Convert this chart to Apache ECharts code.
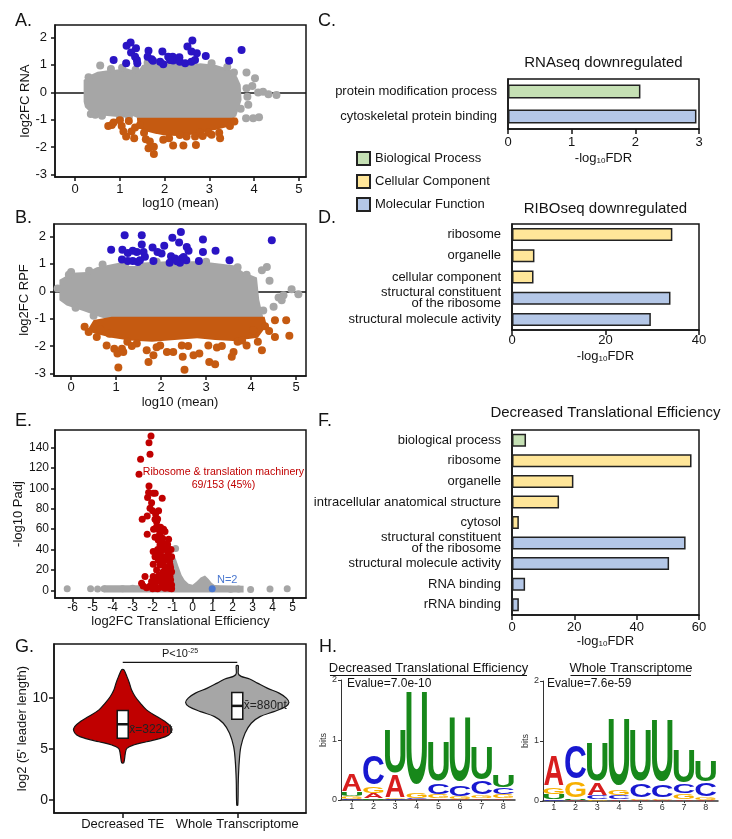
<!DOCTYPE html>
<html><head><meta charset="utf-8">
<script src="https://cdn.jsdelivr.net/npm/echarts@6/dist/echarts.min.js"></script>
<style>html,body{margin:0;padding:0;background:#fff}#c{width:732px;height:839px}</style>
</head><body><div id="c"></div>
<script>
const FONT = 'Liberation Sans, Arial, sans-serif';
const INK = '#141414';
const GRAY = '#a6a6a6', BLUE_PT = '#2a14c4', ORANGE = '#c55a11', RED = '#c00000', BLUE_E = '#4a78d0';

// ---------- Panel A (RNA MA plot)
const aGrayHull = [[0.19,-0.35],[0.19,0.45],[0.33,0.62],[0.5,0.75],[0.7,0.8],[0.9,0.82],[1.15,0.88],[1.3,0.8],[1.4,0.75],[1.5,1.0],[1.7,1.08],[2.0,1.12],[2.3,1.08],[2.5,1.0],[2.8,1.06],[3.15,1.0],[3.35,0.9],[3.5,0.8],[3.62,0.57],[3.7,0.27],[3.72,-0.28],[3.6,-0.88],[3.5,-0.98],[1.45,-0.98],[1.3,-0.88],[1.1,-0.92],[0.9,-0.9],[0.6,-0.85],[0.35,-0.75],[0.22,-0.55]];
const aGrayPts = [[0.56,0.98],[0.3,0.55],[1.05,0.9],[1.62,1.08],[2.6,1.03],[3.05,1.06],[3.55,0.72],[3.83,0.72],[4.02,0.51],[3.96,0.23],[3.83,0.15],[4.09,-0.01],[4.2,0.02],[4.32,-0.07],[4.5,-0.1],[3.85,-0.16],[3.87,-0.46],[3.82,-0.95],[3.98,-0.95],[4.11,-0.91],[0.35,-0.8],[0.6,-0.86],[1.2,-0.9],[3.7,-0.6],[0.8,0.85],[1.35,0.82],[2.2,1.1],[3.4,0.92],[0.45,-0.82],[1.0,-0.95]];
const aUp = [[0.86,1.18],[1.15,1.70],[1.24,1.82],[1.36,1.61],[1.25,1.45],[1.34,1.30],[1.38,1.18],[1.39,1.06],[1.14,1.06],[1.64,1.52],[1.62,1.30],[1.71,1.21],[1.74,1.15],[1.90,1.12],[1.95,1.49],[1.97,1.02],[2.08,1.30],[2.18,1.30],[2.19,1.16],[2.33,1.28],[2.34,1.12],[2.46,1.06],[2.51,1.67],[2.62,1.89],[2.60,1.49],[2.72,1.43],[2.60,1.12],[2.68,1.18],[2.92,1.33],[3.44,1.15],[3.72,1.55],[2.12,1.18]];
const aDownHull = [[1.38,-0.93],[3.62,-0.93],[3.62,-1.1],[3.45,-1.25],[3.2,-1.35],[2.9,-1.45],[2.6,-1.55],[2.3,-1.6],[2.0,-1.58],[1.75,-1.5],[1.55,-1.42],[1.4,-1.3]];
const aDown = [[0.74,-1.23],[0.82,-1.2],[0.86,-1.11],[1.04,-1.23],[1.08,-1.44],[1.14,-1.62],[1.26,-1.44],[1.32,-1.68],[1.34,-1.29],[1.45,-1.2],[1.54,-1.48],[1.58,-1.72],[1.67,-1.8],[1.64,-2.05],[1.76,-2.26],[1.76,-1.99],[1.97,-1.74],[2.19,-1.95],[2.42,-1.95],[2.7,-1.93],[2.68,-1.62],[2.79,-1.48],[2.98,-1.48],[3.24,-1.68],[3.22,-1.48],[3.46,-1.23],[3.56,-1.07],[2.49,-1.62],[2.34,-1.56],[1.2,-1.05],[1.0,-1.02],[2.1,-1.68],[2.85,-1.6],[3.05,-1.55]];

// ---------- Panel B (RPF MA plot)
const bGrayHull = [[-0.26,-0.33],[-0.26,0.42],[-0.17,0.5],[0.01,0.68],[0.35,0.7],[0.57,0.88],[0.79,0.95],[1.09,1.05],[1.3,0.92],[1.45,0.92],[1.61,1.05],[2.13,1.1],[2.57,1.1],[2.87,1.1],[3.24,1.02],[3.61,0.95],[3.83,0.7],[4.13,0.5],[4.18,-0.3],[4.27,-0.95],[3.5,-0.96],[2.2,-0.96],[1.2,-1.0],[0.87,-1.06],[0.64,-0.94],[0.27,-0.72],[-0.1,-0.52]];
const bGrayPts = [[4.35,0.89],[4.24,0.77],[4.41,0.38],[4.61,-0.23],[4.72,-0.15],[4.9,0.07],[5.05,-0.11],[4.5,-0.57],[4.27,-0.7],[4.68,-0.33],[0.0,0.7],[-0.05,0.6],[0.4,0.75],[3.9,0.6],[0.5,-0.9],[0.1,-0.6],[0.7,0.98],[1.2,1.0],[1.9,1.08],[3.0,1.08],[3.7,0.88],[-0.3,0.1]];
const bUp = [[0.89,1.52],[1.14,1.52],[1.19,2.05],[1.26,1.40],[1.37,1.48],[1.46,1.44],[1.57,2.05],[1.57,1.71],[1.61,1.44],[1.64,1.26],[1.81,1.60],[1.92,1.44],[2.01,1.38],[2.07,1.66],[2.25,1.96],[2.40,1.78],[2.44,2.17],[2.57,1.62],[2.61,1.48],[2.22,1.28],[2.31,1.20],[2.46,1.20],[2.56,1.13],[2.42,1.04],[2.19,1.04],[1.13,1.16],[1.26,1.11],[1.37,1.11],[1.48,1.07],[1.53,1.13],[1.83,1.11],[2.84,1.11],[2.93,1.44],[2.93,1.89],[3.21,1.48],[3.52,1.13],[4.46,1.87],[2.35,1.1],[2.5,1.25]];
const bDownHull = [[0.5,-1.05],[0.9,-0.93],[4.3,-0.93],[4.35,-1.25],[4.15,-1.7],[3.6,-1.82],[3.2,-1.78],[2.8,-1.72],[2.3,-1.78],[1.8,-1.85],[1.3,-1.8],[0.9,-1.7],[0.55,-1.55],[0.35,-1.45]];
const bDown = [[0.39,-1.49],[0.57,-1.67],[0.79,-1.98],[0.96,-2.10],[1.03,-2.28],[1.05,-2.79],[1.13,-2.10],[1.16,-2.22],[1.25,-1.85],[1.46,-1.91],[1.68,-2.16],[1.72,-2.59],[1.83,-2.34],[1.98,-1.98],[2.13,-2.22],[2.27,-2.22],[2.46,-1.98],[2.48,-2.40],[2.52,-2.87],[2.72,-2.34],[2.85,-2.28],[3.05,-1.98],[3.07,-2.59],[3.20,-2.67],[3.24,-2.06],[3.57,-2.40],[3.61,-2.22],[3.90,-1.98],[4.24,-2.16],[4.31,-1.28],[4.53,-1.06],[4.78,-1.06],[4.53,-1.67],[4.85,-1.63],[4.05,-1.43],[3.70,-1.85],[0.3,-1.3],[0.65,-1.4],[0.85,-1.55],[1.35,-2.0],[1.9,-2.05],[2.6,-2.0],[3.35,-2.0],[3.8,-1.8],[4.15,-1.85],[4.4,-1.45]];

// ---------- GO bar charts (C, D, F)
const goTypes = ['Biological Process','Cellular Component','Molecular Function'];
const goColors = ['#c5e0b4','#ffe699','#b4c7e7'];
const cCats = ['protein modification process','cytoskeletal protein binding'];
const cVals = [2.08, 2.96];
const cType = [0, 2];
const dCats = ['ribosome','organelle','cellular component','structural constituent\nof the ribosome','structural molecule activity'];
const dVals = [34.3, 4.8, 4.6, 33.9, 29.7];
const dType = [1, 1, 1, 2, 2];
const fCats = ['biological process','ribosome','organelle','intracellular anatomical structure','cytosol','structural constituent\nof the ribosome','structural molecule activity','RNA binding','rRNA binding'];
const fVals = [4.5, 57.6, 19.7, 15.1, 2.2, 55.7, 50.4, 4.2, 2.2];
const fType = [0, 1, 1, 1, 1, 2, 2, 2, 2];

// ---------- Panel E (volcano)
const eGrayHull = [[-4.45,-2.3],[2.55,-2.3],[2.55,4.5],[1.4,4.8],[1.1,5.2],[0.95,7.5],[0.8,11],[0.62,14.5],[0.4,12.5],[0.2,8.5],[0.0,5.5],[-0.2,6.5],[-0.4,10],[-0.55,15],[-0.7,23],[-0.82,30],[-0.95,36],[-1.1,30],[-1.2,8],[-1.5,5],[-2.5,4.8],[-4.45,4.8]];
const eGrayPts = [[-6.27,1.5],[-5.1,1.5],[-4.75,1.2],[-4.43,1.5],[2.9,0.8],[3.87,1.2],[4.73,1.6],[-0.85,41],[-3.5,1.5],[-3.0,2],[1.9,1],[2.3,1.2]];
const eRed = [[-2.08,151.5],[-2.18,145],[-2.13,133.5],[-2.6,128.6],[-2.68,113.9],[-2.18,102.4],[-2.2,95.9],[-1.97,95.2],[-1.87,95.2],[-1.52,90.3],[-2.25,91],[-2.05,86],[-2.13,80.5],[-2.52,69.7],[-2.27,73],[-1.88,69.7],[-1.8,67.4],[-1.8,62.5],[-1.72,59.9],[-1.63,56],[-2.27,55],[-1.38,57.6],[-1.88,52],[-1.72,49.4],[-1.5,51],[-1.43,46],[-1.63,44.5],[-1.97,38],[-1.8,36.3],[-1.55,39.6],[-1.3,39.6],[-1.22,36.3],[-1.38,33],[-1.88,33],[-1.72,29.8],[-1.47,28.1],[-1.22,29.8],[-1.97,25.5],[-1.63,24.9],[-1.38,23.2],[-1.13,24.9],[-1.8,20],[-1.47,18.3],[-1.22,20],[-1.05,18.3],[-2.38,13.4],[-1.97,13.4],[-1.67,15],[-1.38,13.4],[-1.13,13.4],[-2.55,6.9],[-2.47,4.3],[-2.13,4.3],[-2.05,8.5],[-1.88,6.9],[-1.63,8.5],[-1.47,5.2],[-1.22,7.5],[-1.05,5.2],[-1.8,2],[-1.38,2],[-1.17,2],[-2.0,78],[-1.85,75],[-1.75,70],[-1.95,60],[-1.6,62],[-1.7,53],[-1.55,47],[-1.45,42],[-1.75,40],[-1.6,35],[-1.3,32],[-1.15,28],[-1.55,30],[-1.25,15],[-1.1,10],[-1.9,10],[-1.75,12],[-1.5,10],[-1.3,8],[-1.6,3],[-1.05,1.5],[-1.1,22],[-1.25,45],[-1.45,60],[-1.7,78],[-2.3,2.5],[-2.0,1.5],[-1.75,1.5],[-1.05,33],[-1.08,40],[-1.2,50]];
const eBlue = [[0.98,1.5]];

// ---------- Panel G (violins of 5' leader length)
const gCats = ['Decreased TE','Whole Transcriptome'];
const redViolinY = [12.78,12.13,11.47,10.82,10.16,9.51,8.85,8.19,7.70,7.21,6.81,6.39,6.06,5.73,5.41,5.08,4.59,3.67];
const redViolinW = [0.02,0.08,0.13,0.17,0.24,0.34,0.46,0.66,0.82,0.93,0.95,0.89,0.73,0.46,0.21,0.08,0.05,0.02];
const grayViolinY = [13.17,12.29,11.87,11.47,10.98,10.49,10.0,9.57,9.18,8.68,8.19,7.54,6.56,5.24,3.93,1.97,-0.49];
const grayViolinW = [0.02,0.03,0.24,0.39,0.58,0.81,0.95,1.0,0.94,0.71,0.44,0.27,0.15,0.07,0.04,0.02,0.01];
const boxQ1 = [6.06, 7.93], boxMed = [7.44, 9.24], boxQ3 = [8.78, 10.55];
const meanLabels = ['x\u0304=322nt','x\u0304=880nt'];
const sigBracket = [0, 1, 13.5];

// ---------- Panel H (sequence logos, bits)
const logoPos = [1,2,3,4,5,6,7,8];
const decA = [0.28,0.08,0.38,0.015,0.02,0.01,0.02,0.02];
const decC = [0.02,0.50,0.01,0.015,0.18,0.18,0.22,0.11];
const decG = [0.04,0.12,0.01,0.09,0.06,0.04,0.05,0.07];
const decU = [0.06,0.02,0.75,1.60,0.68,1.10,0.57,0.20];
const wtA = [0.50,0.02,0.20,0.02,0.01,0.01,0.02,0.01];
const wtC = [0.02,0.58,0.06,0.07,0.22,0.20,0.15,0.23];
const wtG = [0.12,0.28,0.02,0.08,0.03,0.03,0.09,0.05];
const wtU = [0.09,0.02,0.65,1.16,0.87,1.05,0.57,0.36];

// ================= helpers
function merge(a, b) {
  const out = Array.isArray(a) ? a.slice() : Object.assign({}, a);
  for (const k in b) {
    if (b[k] && typeof b[k] === 'object' && !Array.isArray(b[k]) && a[k] && typeof a[k] === 'object') out[k] = merge(a[k], b[k]);
    else out[k] = b[k];
  }
  return out;
}
const axBase = (g) => ({
  gridIndex: g, type: 'value',
  axisLine: {show: true, onZero: false, lineStyle: {color: INK, width: 1.5}},
  axisTick: {show: true, length: 4, lineStyle: {color: INK, width: 1.5}},
  splitLine: {show: false},
  axisLabel: {color: INK, fontSize: 13, fontFamily: FONT},
  nameLocation: 'middle',
  nameTextStyle: {color: INK, fontSize: 13, fontFamily: FONT}
});
const ax = (g, o) => merge(axBase(g), o);
const range = (a, b, s) => { const r = []; for (let v = a; v <= b + 1e-9; v += s) r.push(Math.round(v * 100) / 100); return r; };
const fdrName = {name: '-log{s|10}FDR', nameTextStyle: {rich: {s: {fontSize: 8, fontFamily: FONT, color: INK, padding: [5, 0, 0, 0]}}}};

function hull(g, pts, color, z) {
  return {type: 'custom', xAxisIndex: g, yAxisIndex: g, z, silent: true, data: [[pts[0][0], pts[0][1]]],
    renderItem: (p, api) => ({type: 'polygon', shape: {points: pts.map(q => api.coord(q))}, style: {fill: color}})};
}
function scat(g, pts, color, size, z) {
  return {type: 'scatter', xAxisIndex: g, yAxisIndex: g, z, data: pts, symbolSize: size, itemStyle: {color, opacity: 1}, silent: true};
}
function zeroLine(g) {
  return {type: 'line', xAxisIndex: g, yAxisIndex: g, z: 1, data: [], markLine: {silent: true, symbol: 'none', z: 1, label: {show: false}, lineStyle: {color: INK, width: 1.5, type: 'solid'}, data: [{yAxis: 0}]}};
}
function goSeries(g, vals, types, bw) {
  return goTypes.map((nm, t) => ({type: 'bar', name: nm, stack: 'go' + g, xAxisIndex: g, yAxisIndex: g, barWidth: bw,
    data: vals.map((v, i) => types[i] === t ? v : '-'),
    itemStyle: {color: goColors[t], borderColor: '#222', borderWidth: 1.5}}));
}
const catAxis = (g, cats) => ({gridIndex: g, type: 'category', inverse: true, data: cats,
  axisLine: {show: true, lineStyle: {color: INK, width: 1.5}}, axisTick: {show: false},
  axisLabel: {color: INK, fontSize: 13, fontFamily: FONT, margin: 11, lineHeight: 11}});

// logo rendering
const LCOL = {A: '#d81e1e', C: '#1818d0', G: '#f7b000', U: '#17881a'};
const INKW = {A: 0.70, C: 0.63, G: 0.67, U: 0.59};
const CAPH = {A: 0.716, C: 0.745, G: 0.745, U: 0.73};
function logoSeries(g, A, C, G, U) {
  return {type: 'custom', xAxisIndex: g, yAxisIndex: g, z: 5, silent: true,
    data: logoPos.map((p, i) => [p, A[i] + C[i] + G[i] + U[i]]),
    renderItem: (params, api) => {
      const k = params.dataIndex, pos = logoPos[k];
      const letters = [['A', A[k]], ['C', C[k]], ['G', G[k]], ['U', U[k]]].sort((a, b) => a[1] - b[1]);
      let base = 0; const children = [];
      for (const [L, h] of letters) {
        if (h <= 0) continue;
        const bl = api.coord([pos - 0.46, base]), tr = api.coord([pos + 0.46, base + h]);
        const w = tr[0] - bl[0], hp = bl[1] - tr[1];
        const F = 100, sx = w / (INKW[L] * F), sy = hp / (CAPH[L] * F);
        children.push({type: 'text', x: (bl[0] + tr[0]) / 2, y: (bl[1] + tr[1]) / 2 + 0.018 * F * sy, scaleX: sx, scaleY: sy,
          style: {text: L, fontSize: F, fontFamily: 'Liberation Sans', fontWeight: 'bold', fill: LCOL[L],
            align: 'center', verticalAlign: 'middle', textAlign: 'center', textVerticalAlign: 'middle'}});
        base += h;
      }
      return {type: 'group', children};
    }};
}

// violins
const violins = [
  {y: redViolinY, w: redViolinW, color: RED},
  {y: grayViolinY, w: grayViolinW, color: GRAY}
];
const VSCALE = 0.451, BOXHALF = 0.048;

const T = (x, y, text, size, extra) => ({type: 'text', x, y, silent: true,
  style: Object.assign({text, fontSize: size, fontFamily: FONT, fill: INK, align: 'left', verticalAlign: 'middle', textAlign: 'left', textVerticalAlign: 'middle'}, extra || {})});

const option = {
  animation: false,
  backgroundColor: '#fff',
  grid: [
    {left: 55, top: 25, width: 251, height: 152},
    {left: 54, top: 224, width: 252, height: 152},
    {left: 508, top: 79, width: 191, height: 50},
    {left: 512, top: 224, width: 187, height: 106},
    {left: 55, top: 430, width: 251, height: 168},
    {left: 512, top: 430, width: 187, height: 185},
    {left: 54, top: 644, width: 252, height: 169},
    {left: 341, top: 680, width: 174, height: 120, show: false},
    {left: 543, top: 681, width: 175, height: 120, show: false}
  ].map(g => Object.assign({show: true, borderColor: INK, borderWidth: 1.5}, g)),
  xAxis: [
    ax(0, {min: -0.45, max: 5.16, axisLabel: {customValues: range(0, 5, 1), margin: 6}, axisTick: {customValues: range(0, 5, 1)}, name: 'log10 (mean)', nameGap: 19}),
    ax(1, {min: -0.38, max: 5.22, axisLabel: {customValues: range(0, 5, 1), margin: 5}, axisTick: {customValues: range(0, 5, 1)}, name: 'log10 (mean)', nameGap: 20}),
    ax(2, merge({min: 0, max: 3, interval: 1, axisLabel: {margin: 7}, axisTick: {length: 5}, nameGap: 23}, fdrName)),
    ax(3, merge({min: 0, max: 40, interval: 20, axisLabel: {margin: 4}, axisTick: {length: 5}, nameGap: 20}, fdrName)),
    ax(4, {min: -6.88, max: 5.67, axisLabel: {customValues: range(-6, 5, 1), margin: 4, fontSize: 12}, axisTick: {customValues: range(-6, 5, 1)}, name: 'log2FC Translational Efficiency', nameGap: 17}),
    ax(5, merge({min: 0, max: 60, interval: 20, axisLabel: {margin: 6}, axisTick: {length: 5}, nameGap: 18}, fdrName)),
    ax(6, {min: -0.6, max: 1.6, axisLabel: {customValues: [0, 1], margin: 5, formatter: v => gCats[Math.round(v)]}, axisTick: {customValues: [0, 1], length: 5}}),
    ax(7, {min: 0.5, max: 8.54, axisLine: {lineStyle: {width: 1.5, color: '#333'}}, axisLabel: {customValues: logoPos, margin: 2, fontSize: 9, color: '#333'}, axisTick: {customValues: logoPos, length: 2, lineStyle: {width: 1, color: '#333'}}}),
    ax(8, {min: 0.5, max: 8.57, axisLine: {lineStyle: {width: 1.5, color: '#333'}}, axisLabel: {customValues: logoPos, margin: 2, fontSize: 9, color: '#333'}, axisTick: {customValues: logoPos, length: 2, lineStyle: {width: 1, color: '#333'}}})
  ],
  yAxis: [
    ax(0, {min: -3.1, max: 2.46, axisLabel: {customValues: range(-3, 2, 1), margin: 8}, axisTick: {customValues: range(-3, 2, 1)}, name: 'log2FC RNA', nameGap: 18, nameRotate: 90}),
    ax(1, {min: -3.1, max: 2.46, axisLabel: {customValues: range(-3, 2, 1), margin: 8}, axisTick: {customValues: range(-3, 2, 1)}, name: 'log2FC RPF', nameGap: 18, nameRotate: 90}),
    catAxis(2, cCats),
    catAxis(3, dCats),
    ax(4, {min: -7.6, max: 157.4, axisLabel: {customValues: range(0, 140, 20), margin: 6, fontSize: 12}, axisTick: {customValues: range(0, 140, 20)}, name: '-log10 Padj', nameGap: 23, nameRotate: 90}),
    catAxis(5, fCats),
    ax(6, {min: -1.25, max: 15.3, axisLabel: {customValues: [0, 5, 10], margin: 6, fontSize: 14}, axisTick: {customValues: [0, 5, 10], length: 5}, name: "log2 (5' leader length)", nameGap: 13, nameRotate: 90}),
    ax(7, {min: 0, max: 2, interval: 1, axisLine: {lineStyle: {width: 1, color: '#333'}}, axisLabel: {margin: 4, fontSize: 9, color: '#333'}, axisTick: {length: 3, lineStyle: {width: 1, color: '#333'}}, name: 'bits', nameGap: 10, nameRotate: 90, nameTextStyle: {fontSize: 9, color: '#333'}}),
    ax(8, {min: 0, max: 2, interval: 1, axisLine: {lineStyle: {width: 1, color: '#333'}}, axisLabel: {margin: 4, fontSize: 9, color: '#333'}, axisTick: {length: 3, lineStyle: {width: 1, color: '#333'}}, name: 'bits', nameGap: 11, nameRotate: 90, nameTextStyle: {fontSize: 9, color: '#333'}})
  ],
  legend: {left: 351, top: 146, orient: 'vertical', itemWidth: 13, itemHeight: 13, itemGap: 8, icon: 'rect', selectedMode: false,
    data: goTypes, textStyle: {fontSize: 13, color: INK, fontFamily: FONT}},
  series: [
    // A
    zeroLine(0), hull(0, aGrayHull, GRAY, 2), scat(0, aGrayPts, GRAY, 8, 2),
    hull(0, aDownHull, ORANGE, 3), scat(0, aDown, ORANGE, 8, 3), scat(0, aUp, BLUE_PT, 8, 3),
    // B
    zeroLine(1), hull(1, bGrayHull, GRAY, 2), scat(1, bGrayPts, GRAY, 8, 2),
    hull(1, bDownHull, ORANGE, 3), scat(1, bDown, ORANGE, 8, 3), scat(1, bUp, BLUE_PT, 8, 3),
    // C, D, F
    ...goSeries(2, cVals, cType, 14), ...goSeries(3, dVals, dType, 13), ...goSeries(5, fVals, fType, 13),
    // E
    hull(4, eGrayHull, GRAY, 2), scat(4, eGrayPts, GRAY, 7, 2), scat(4, eRed, RED, 7, 3), scat(4, eBlue, BLUE_E, 7, 3),
    // G violins
    {type: 'custom', xAxisIndex: 6, yAxisIndex: 6, z: 3, silent: true, data: [[0, boxMed[0]], [1, boxMed[1]]],
      renderItem: (params, api) => {
        const i = params.dataIndex, v = violins[i];
        const right = v.y.map((y, k) => api.coord([i + v.w[k] * VSCALE, y]));
        const left = v.y.map((y, k) => api.coord([i - v.w[k] * VSCALE, y])).reverse();
        const p1 = api.coord([i - BOXHALF, boxQ3[i]]), p2 = api.coord([i + BOXHALF, boxQ1[i]]);
        const m1 = api.coord([i - BOXHALF, boxMed[i]]), m2 = api.coord([i + BOXHALF, boxMed[i]]);
        const lab = api.coord([i + BOXHALF, (boxQ1[i] + boxQ3[i]) / 2 - (i === 0 ? 0.55 : 0)]);
        return {type: 'group', children: [
          {type: 'polygon', shape: {points: right.concat(left), smooth: 0.35}, style: {fill: v.color, stroke: INK, lineWidth: 1.2}},
          {type: 'rect', shape: {x: p1[0], y: p1[1], width: p2[0] - p1[0], height: p2[1] - p1[1]}, style: {fill: '#fff', stroke: INK, lineWidth: 1.5}},
          {type: 'line', shape: {x1: m1[0], y1: m1[1], x2: m2[0], y2: m2[1]}, style: {stroke: INK, lineWidth: 2.5}},
          {type: 'text', x: lab[0] + 1, y: lab[1], style: {text: meanLabels[i], fontSize: 12, fontFamily: FONT, fill: '#222', align: 'left', verticalAlign: 'middle', textAlign: 'left', textVerticalAlign: 'middle'}}
        ]};
      }},
    {type: 'custom', xAxisIndex: 6, yAxisIndex: 6, z: 3, silent: true, data: [sigBracket],
      renderItem: (params, api) => {
        const a = api.coord([sigBracket[0], sigBracket[2]]), b = api.coord([sigBracket[1], sigBracket[2]]);
        return {type: 'group', children: [
          {type: 'line', shape: {x1: a[0], y1: a[1], x2: b[0], y2: b[1]}, style: {stroke: INK, lineWidth: 1.2}},
          {type: 'text', x: (a[0] + b[0]) / 2, y: a[1] - 8, style: {text: '{a|P<10}{b|-25}', align: 'center', verticalAlign: 'middle', textAlign: 'center', textVerticalAlign: 'middle',
            rich: {a: {fontSize: 11, fontFamily: FONT, fill: INK, color: INK}, b: {fontSize: 7, fontFamily: FONT, fill: INK, color: INK, padding: [0, 0, 6, 0]}}}}
        ]};
      }},
    // H logos
    logoSeries(7, decA, decC, decG, decU),
    logoSeries(8, wtA, wtC, wtG, wtU)
  ],
  graphic: [
    T(15, 21, 'A.', 18), T(15, 218, 'B.', 18), T(318, 21, 'C.', 18), T(318, 218, 'D.', 18),
    T(15, 421, 'E.', 18), T(318, 421, 'F.', 18), T(15, 647, 'G.', 18), T(319, 647, 'H.', 18),
    T(603.5, 63, 'RNAseq downregulated', 15, {align: 'center', textAlign: 'center'}),
    T(605.5, 209, 'RIBOseq downregulated', 15, {align: 'center', textAlign: 'center'}),
    T(605.5, 413, 'Decreased Translational Efficiency', 15, {align: 'center', textAlign: 'center'}),
    T(223.5, 472, 'Ribosome & translation machinery', 10.6, {align: 'center', textAlign: 'center', fill: RED}),
    T(223.5, 485, '69/153 (45%)', 10.6, {align: 'center', textAlign: 'center', fill: RED}),
    T(217, 580, 'N=2', 11, {fill: BLUE_E}),
    T(428.5, 668, 'Decreased Translational Efficiency', 13, {align: 'center', textAlign: 'center'}),
    {type: 'line', silent: true, shape: {x1: 330, y1: 675.5, x2: 527, y2: 675.5}, style: {stroke: INK, lineWidth: 1}},
    T(631, 668, 'Whole Transcriptome', 13, {align: 'center', textAlign: 'center'}),
    {type: 'line', silent: true, shape: {x1: 570.5, y1: 675.5, x2: 691, y2: 675.5}, style: {stroke: INK, lineWidth: 1}},
    T(347, 684, 'Evalue=7.0e-10', 12),
    T(547, 684, 'Evalue=7.6e-59', 12)
  ]
};
const chart = echarts.init(document.getElementById('c'), null, {renderer: 'canvas'});
chart.setOption(option);
</script></body></html>
